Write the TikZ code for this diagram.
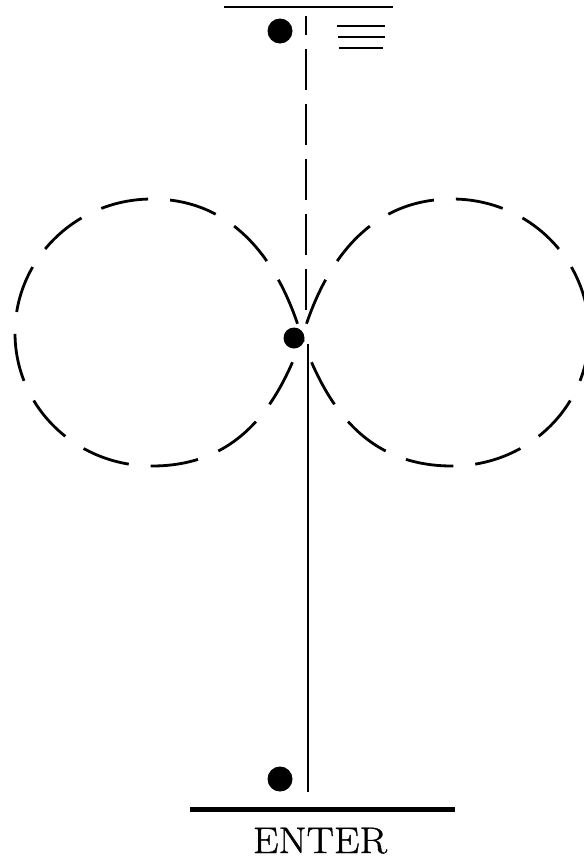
\documentclass[tikz,border=0pt]{standalone}
\usepackage{fontspec}
\newfontfamily\enterfont[FakeBold=1,FakeStretch=1.1]{Latin Modern Roman}
\usetikzlibrary{calc}
\begin{document}
\begin{tikzpicture}[x=1pt,y=-1pt,
  dotnode/.style={circle,fill=black,inner sep=0pt,minimum size=#1},
  loopline/.style={line width=2.8pt,dash pattern=on 48pt off 22pt,dash phase=55pt},
  thinline/.style={line width=2.4pt},
  barline/.style={line width=1.8pt}]
\useasboundingbox (0,0) rectangle (584,860);
% named points
\coordinate (C) at (302,338);
\coordinate (topL) at (224,7);
\coordinate (topR) at (393,7);
\coordinate (dashTop) at (306,16);
\coordinate (dashBot) at (306,310);
\coordinate (solTop) at (308,344);
\coordinate (solBot) at (308,792);
\coordinate (botL) at (190,809);
\coordinate (botR) at (455,809);
% dots
\node[dotnode=25pt] (d1) at (280,31) {};
\node[dotnode=21pt] (d2) at (294,338) {};
\node[dotnode=25pt] (d3) at (280,779) {};
% top line
\draw[thinline] (topL) -- (topR);
% three short bars
\coordinate (b1l) at (337,26); \coordinate (b1r) at (385,26);
\coordinate (b2l) at (338,37); \coordinate (b2r) at (385,37);
\coordinate (b3l) at (339,48); \coordinate (b3r) at (383,48);
\draw[barline] (b1l) -- (b1r);
\draw[barline] (b2l) -- (b2r);
\draw[barline] (b3l) -- (b3r);
% vertical dashed line
\draw[thinline,dash pattern=on 41pt off 14pt,dash phase=22pt] (dashTop) -- (dashBot);
% solid vertical line
\draw[thinline] (solTop) -- (solBot);
% figure-eight loops
\draw[loopline] (C) .. controls (281,266) and (237,199) .. (152,199)
  .. controls (76,199) and (15,259) .. (15,333)
  .. controls (15,407) and (76,466) .. (152,466)
  .. controls (237,466) and (277,408) .. (C);
\draw[loopline] (C) .. controls (323,266) and (367,199) .. (452,199)
  .. controls (528,199) and (589,259) .. (589,333)
  .. controls (589,407) and (528,466) .. (452,466)
  .. controls (367,466) and (327,408) .. (C);
% bottom line
\draw[line width=5pt] (botL) -- (botR);
\node[anchor=base,inner sep=0pt,font=\enterfont\fontsize{37}{40}\selectfont] (enter) at (320,853) {ENTER};
\end{tikzpicture}
\end{document}
